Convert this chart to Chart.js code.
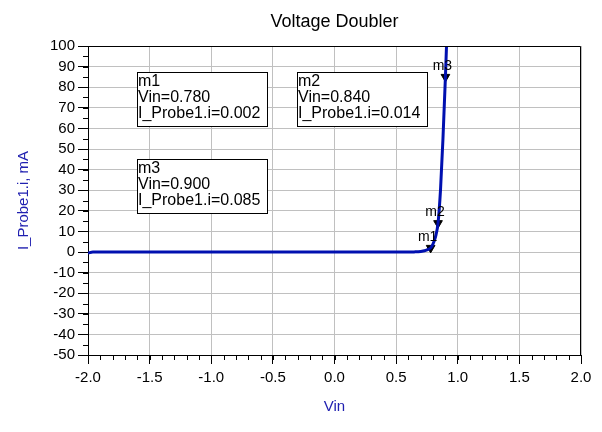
<!DOCTYPE html>
<html>
<head>
<meta charset="utf-8">
<script src="https://cdn.jsdelivr.net/npm/chart.js@4/dist/chart.umd.min.js"></script>
<style>
  body { margin: 0; background: #fff; }
  #chart { display: block; }
</style>
</head>
<body>
<canvas id="chart" width="602" height="432"></canvas>
<script>
// sweep of Vin (V) and probe current (mA)
var vin = [-2.0, -1.96, -1.5, -1.0, -0.5, 0.0, 0.5, 0.6, 0.65, 0.7, 0.72, 0.74, 0.76, 0.78, 0.80, 0.82, 0.84, 0.86, 0.88, 0.90, 0.91, 0.92];
var current = [-0.5, 0, 0, 0, 0, 0, 0, 0.02, 0.06, 0.25, 0.45, 0.8, 1.3, 2, 4, 7.5, 14, 30, 55, 85, 102, 120];

// markers
var markerNames = ['m1', 'm2', 'm3'];
var markerVin = [0.780, 0.840, 0.900];
var markerI = [0.002, 0.014, 0.085]; // A

var xTicks = [-2.0, -1.5, -1.0, -0.5, 0.0, 0.5, 1.0, 1.5, 2.0];
var yTicks = [-50, -40, -30, -20, -10, 0, 10, 20, 30, 40, 50, 60, 70, 80, 90, 100];

var FONT = '"Liberation Sans", Arial, sans-serif';
var BLUE = '#2020b0';
var TITLE = 'Voltage Doubler';

// where the marker readout boxes sit (pixels)
var boxPos = { m1: [137, 72], m2: [297, 72], m3: [137, 159] };

var extrasPlugin = {
    id: 'extras',
    afterDraw: function (chart) {
        var c = chart.ctx, a = chart.chartArea;
        var xs = chart.scales.x, ys = chart.scales.y;
        c.save();
        // title centred over the plot
        c.fillStyle = '#000';
        c.font = '18px ' + FONT;
        c.textAlign = 'center';
        c.textBaseline = 'middle';
        c.fillText(TITLE, (a.left + a.right) / 2, 22);

        // frame top + right
        c.strokeStyle = '#000';
        c.lineWidth = 1;
        c.beginPath();
        c.moveTo(a.left, a.top + 0.5);
        c.lineTo(a.right - 0.5, a.top + 0.5);
        c.lineTo(a.right - 0.5, a.bottom);
        c.stroke();

        // minor ticks
        c.beginPath();
        for (var v = -2.0; v <= 2.0001; v += 0.1) {
            var px = Math.round(xs.getPixelForValue(v)) + 0.5;
            c.moveTo(px, a.bottom);
            c.lineTo(px, a.bottom + 5);
        }
        for (var w = -50; w <= 100; w += 5) {
            var py = Math.round(ys.getPixelForValue(w)) + 0.5;
            c.moveTo(a.left, py);
            c.lineTo(a.left - 5, py);
        }
        c.stroke();

        // marker names above triangles
        c.font = '14px ' + FONT;
        c.textBaseline = 'bottom';
        for (var i = 0; i < markerNames.length; i++) {
            var mx = xs.getPixelForValue(markerVin[i]);
            var my = ys.getPixelForValue(markerI[i] * 1000);
            c.fillText(markerNames[i], mx - 3, my - 4);
        }

        // readout boxes
        c.font = '16px ' + FONT;
        c.textAlign = 'left';
        c.textBaseline = 'middle';
        for (var k = 0; k < markerNames.length; k++) {
            var p = boxPos[markerNames[k]];
            c.fillStyle = '#fff';
            c.fillRect(p[0], p[1], 130, 54);
            c.strokeStyle = '#000';
            c.strokeRect(p[0] + 0.5, p[1] + 0.5, 130, 54);
            c.fillStyle = '#000';
            c.fillText(markerNames[k], p[0] + 1, p[1] + 10);
            c.fillText('Vin=' + markerVin[k].toFixed(3), p[0] + 1, p[1] + 26);
            c.fillText('I_Probe1.i=' + markerI[k].toFixed(3), p[0] + 1, p[1] + 42);
        }
        c.restore();
    }
};

var ctx = document.getElementById('chart').getContext('2d');
var chart = new Chart(ctx, {
    type: 'line',
    data: {
        datasets: [{
            data: vin.map(function (v, i) { return { x: v, y: current[i] }; }),
            borderColor: '#0010b0',
            borderWidth: 3,
            pointRadius: 0,
            cubicInterpolationMode: 'monotone',
            fill: false
        }, {
            data: markerVin.map(function (v, i) { return { x: v, y: markerI[i] * 1000 }; }),
            showLine: false,
            pointStyle: 'triangle',
            rotation: 180,
            pointRadius: 5,
            backgroundColor: '#000',
            borderColor: '#000',
            borderWidth: 1
        }]
    },
    options: {
        responsive: false,
        animation: false,
        devicePixelRatio: 1,
        layout: { padding: { left: 0, right: 21, top: 46, bottom: 0 } },
        plugins: {
            legend: { display: false },
            tooltip: { enabled: false },
            title: { display: false }
        },
        scales: {
            x: {
                type: 'linear',
                min: -2.0,
                max: 2.0,
                afterBuildTicks: function (s) { s.ticks = xTicks.map(function (v) { return { value: v }; }); },
                afterFit: function (s) { s.height = 77; },
                ticks: {
                    color: '#000',
                    font: { family: FONT, size: 15 },
                    padding: 5,
                    maxRotation: 0,
                    autoSkip: false,
                    callback: function (v) { return Number(v).toFixed(1); }
                },
                grid: { color: '#c0c0c0', tickColor: '#000', tickLength: 9 },
                border: { color: '#000' },
                title: {
                    display: true,
                    text: 'Vin',
                    color: BLUE,
                    font: { family: FONT, size: 15 },
                    padding: { top: 0, bottom: 16 }
                }
            },
            y: {
                min: -50,
                max: 100,
                afterBuildTicks: function (s) { s.ticks = yTicks.map(function (v) { return { value: v }; }); },
                afterFit: function (s) { s.width = 88; },
                ticks: {
                    color: '#000',
                    font: { family: FONT, size: 15 },
                    padding: 3,
                    autoSkip: false
                },
                grid: { color: '#c0c0c0', tickColor: '#000', tickLength: 10 },
                border: { color: '#000' },
                title: {
                    display: true,
                    text: 'I_Probe1.i, mA',
                    color: BLUE,
                    font: { family: FONT, size: 15 },
                    padding: { top: 15, bottom: 0 }
                }
            }
        }
    },
    plugins: [extrasPlugin]
});
</script>
</body>
</html>
